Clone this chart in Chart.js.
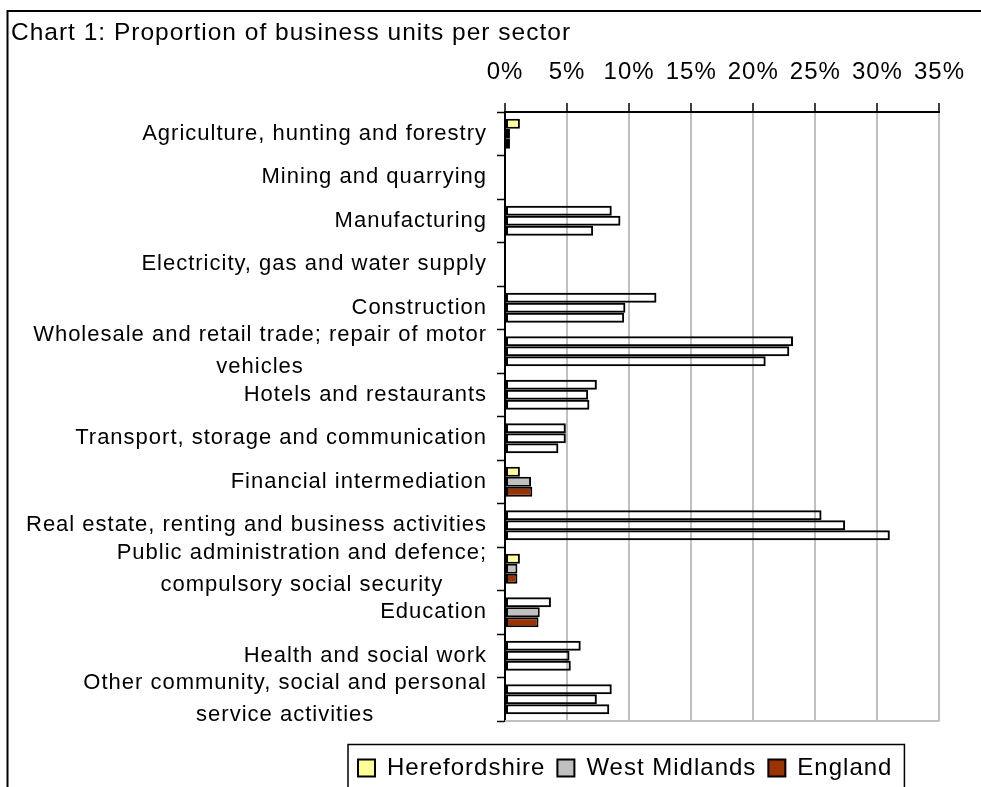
<!DOCTYPE html>
<html><head><meta charset="utf-8">
<script src="https://cdn.jsdelivr.net/npm/chart.js@4"></script>
<style>html,body{margin:0;padding:0;background:#fff;overflow:hidden}canvas{display:block}</style>
</head><body>
<canvas id="c" width="981" height="787"></canvas>
<script>
const titleText = 'Chart 1: Proportion of business units per sector';
const categories = [
  'Agriculture, hunting and forestry',
  'Mining and quarrying',
  'Manufacturing',
  'Electricity, gas and water supply',
  'Construction',
  ['Wholesale and retail trade; repair of motor', 'vehicles'],
  'Hotels and restaurants',
  'Transport, storage and communication',
  'Financial intermediation',
  'Real estate, renting and business activities',
  ['Public administration and defence;', 'compulsory social security'],
  'Education',
  'Health and social work',
  ['Other community, social and personal', 'service activities']
];
const seriesNames = ['Herefordshire', 'West Midlands', 'England'];
const herefordshire = [1.2, 0, 8.6, 0, 12.2, 23.2, 7.4, 4.9, 1.2, 25.5, 1.2, 3.7, 6.1, 8.6];
const westMidlands  = [0.4, 0, 9.3, 0, 9.7, 22.9, 6.7, 4.9, 2.1, 27.4, 1.0, 2.8, 5.2, 7.4];
const england       = [0.4, 0, 7.1, 0, 9.6, 21.0, 6.8, 4.3, 2.2, 31.0, 1.0, 2.7, 5.3, 8.4];
const xTicks = [0, 5, 10, 15, 20, 25, 30, 35];
const seriesColors = ['#FFFF99', '#C0C0C0', '#993300'];

const FONT = '"Liberation Sans", Arial, sans-serif';
const SPACING = '1px';
const TITLE_SIZE = 24.5, TITLE_PAD_TOP = 19, TITLE_PAD_BOTTOM = 10;

function fillFor(base) {
  // in the reference, the larger bars are drawn with no fill
  return (ctx) => (ctx.type === 'data' && ctx.raw >= 3) ? 'rgba(0,0,0,0)' : base;
}

const decor = {
  id: 'decor',
  beforeUpdate(chart) { chart.ctx.letterSpacing = SPACING; },
  afterLayout(chart) {
    const lg = chart.legend;
    if (lg) {
      lg.left = 346; lg.right = 1200; lg.top = 744; lg.bottom = 800;
    }
  },
  beforeDraw(chart) {
    const ctx = chart.ctx;
    ctx.letterSpacing = SPACING;
    const sc = chart.scales.y;
    const items = sc.getLabelItems();
    items.forEach(it => {
      if (Array.isArray(it.label) && !it._c) {
        ctx.save(); ctx.font = it.font.string;
        const w = Math.max(...it.label.map(s => ctx.measureText(s).width));
        ctx.restore();
        it.options.textAlign = 'center';
        it.options.translation = [it.options.translation[0] - w / 2, it.options.translation[1]];
        it._c = true;
      }
    });
  },
  beforeDatasetsDraw(chart) {
    const {ctx, chartArea: a} = chart;
    ctx.save();
    ctx.strokeStyle = '#c0c0c0'; ctx.lineWidth = 2;
    ctx.beginPath(); ctx.moveTo(a.left, a.bottom); ctx.lineTo(a.right, a.bottom); ctx.stroke();
    ctx.restore();
  },
  afterDraw(chart) {
    const ctx = chart.ctx;
    ctx.save();
    ctx.strokeStyle = '#000'; ctx.lineWidth = 2;
    ctx.strokeRect(7.5, 11, 2000, 2000);
    const lg = chart.legend;
    if (lg && lg.lineWidths) {
      const pad = lg.options.labels.padding;
      const x0 = lg.left + pad - 10;
      const x1 = lg.left + pad + lg.lineWidths[0] - pad + 12;
      ctx.lineWidth = 1.5;
      ctx.strokeRect(x0, 744.5, x1 - x0, 200);
    }
    ctx.restore();
  }
};

const datasets = [herefordshire, westMidlands, england].map((d, i) => ({
  label: seriesNames[i],
  data: d,
  backgroundColor: fillFor(seriesColors[i]),
  borderColor: '#000',
  borderWidth: 2,
  borderSkipped: false,
  categoryPercentage: 0.69,
  barPercentage: 1.0
}));

Chart.defaults.font.family = FONT;
Chart.defaults.color = '#000';

new Chart(document.getElementById('c'), {
  type: 'bar',
  data: { labels: categories, datasets },
  options: {
    indexAxis: 'y',
    responsive: false,
    animation: false,
    events: [],
    layout: { padding: { left: 11, right: 39, top: 0, bottom: 20 } },
    plugins: {
      title: {
        display: true, text: titleText, align: 'start',
        font: { size: TITLE_SIZE, weight: 'normal', family: FONT }, color: '#000',
        padding: { top: TITLE_PAD_TOP, bottom: TITLE_PAD_BOTTOM }
      },
      legend: {
        position: 'bottom', align: 'start',
        labels: { font: { size: 24, family: FONT }, color: '#000', boxWidth: 17, boxHeight: 17, padding: 12 }
      },
      tooltip: { enabled: false }
    },
    scales: {
      x: {
        position: 'top', min: xTicks[0], max: xTicks[xTicks.length - 1],
        afterBuildTicks: (s) => { s.ticks = xTicks.map(v => ({ value: v })); },
        afterFit: (s) => { s.height = 112 - (TITLE_PAD_TOP + TITLE_SIZE * 1.2 + TITLE_PAD_BOTTOM); },
        ticks: { font: { size: 24, family: FONT }, color: '#000', padding: 16, callback: (v) => v + '%', maxRotation: 0 },
        grid: { color: '#c0c0c0', lineWidth: 2, tickColor: '#000', tickWidth: 1.5, tickLength: 9, drawOnChartArea: true },
        border: { color: '#000', width: 2 }
      },
      y: {
        afterFit: (s) => { s.width = 505 - 11; },
        ticks: { font: { size: 22, family: FONT, lineHeight: 1.45 }, color: '#000', padding: 10, autoSkip: false },
        grid: { drawOnChartArea: false, offset: true, tickColor: '#000', tickWidth: 1.5, tickLength: 8 },
        border: { color: '#000', width: 2 }
      }
    }
  },
  plugins: [decor]
});
</script>
</body></html>
